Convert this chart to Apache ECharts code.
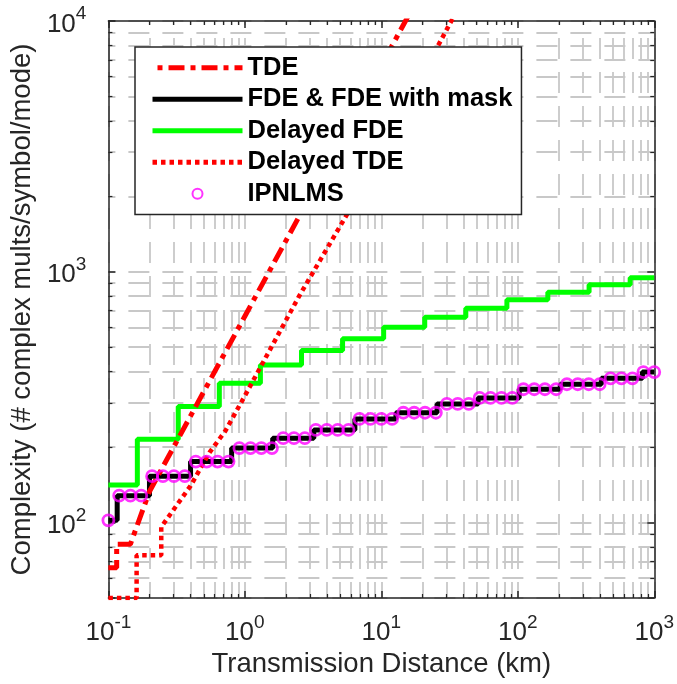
<!DOCTYPE html>
<html>
<head>
<meta charset="utf-8">
<script src="https://cdn.jsdelivr.net/npm/echarts@6/dist/echarts.min.js"></script>
<style>
  html, body { margin: 0; padding: 0; background: #fff; }
  #chart { width: 677px; height: 684px; }
</style>
</head>
<body>
<div id="chart"></div>
<script>
// sample grid of the IPNLMS markers (km)
const distGrid = [0.1, 0.12, 0.145, 0.174, 0.209, 0.251, 0.302, 0.363, 0.437, 0.525,
  0.631, 0.759, 0.912, 1.1, 1.32, 1.58, 1.91, 2.29, 2.75, 3.31,
  3.98, 4.79, 5.75, 6.92, 8.32, 10, 12, 14.5, 17.4, 20.9,
  25.1, 30.2, 36.3, 43.7, 52.5, 63.1, 75.9, 91.2, 110, 132,
  158, 191, 229, 275, 331, 398, 479, 575, 692, 832, 1000];
const ipnlmsVals = [102, 128, 128, 128, 153, 153, 153, 153, 175, 175,
  175, 175, 198, 198, 198, 198, 217, 217, 217, 234,
  234, 234, 234, 259, 259, 259, 259, 274, 274, 274,
  274, 297, 297, 297, 314, 314, 314, 314, 340, 340,
  340, 340, 356, 356, 356, 356, 376, 376, 376, 398, 398];

// FDE & FDE with mask (stairs)
const fdeX = [0.1, 0.116, 0.2, 0.4, 0.8, 1.6, 3.2, 6.4, 12.8, 25.6, 51.2, 102.4, 204.8, 409.6, 819.2, 1000];
const fdeY = [102, 128, 153, 175, 198, 217, 234, 259, 274, 297, 314, 340, 356, 376, 398, 398];

// Delayed FDE (stairs)
const dfdeX = [0.1, 0.163, 0.325, 0.65, 1.3, 2.6, 5.2, 10.4, 20.8, 41.6, 83.2, 166, 333, 666, 1000];
const dfdeY = [141, 215, 290, 359, 425, 485, 540, 601, 659, 716, 773, 828, 887, 946, 946];

// TDE
const tdeX = [0.1, 0.115, 0.115, 0.145, 0.2, 1, 16];
const tdeY = [66, 66, 82, 82, 133, 665, 10640];

// Delayed TDE
const dtdeX = [0.1, 0.161, 0.161, 0.244, 0.244, 0.4, 0.55, 0.72, 1, 2.5, 5.7, 40];
const dtdeY = [50, 50, 74, 74, 96, 140, 190, 232, 320, 800, 1720, 12300];

const FONT = '"Liberation Sans", Arial, Helvetica, sans-serif';
const AXIS_COLOR = '#262626';

function pairs(xs, ys) {
  return xs.map((x, i) => [x, ys[i]]);
}

function expLabel(v) {
  const e = Math.log10(v);
  if (Math.abs(e - Math.round(e)) > 1e-6) return '';
  return '{b|10}{s|' + Math.round(e) + '}';
}

const labelRich = {
  b: { fontSize: 26, fontFamily: FONT, color: AXIS_COLOR, padding: [7, 0, 0, 0] },
  s: { fontSize: 19, fontFamily: FONT, color: AXIS_COLOR, lineHeight: 19, verticalAlign: 'top' }
};

const gridLine = (offset) => ({
  show: true,
  lineStyle: { color: '#c8c8c8', width: 1.8, type: [21, 13], dashOffset: offset }
});

function axisBase(isX) {
  return {
    type: 'log',
    logBase: 10,
    min: isX ? 0.1 : 50,
    max: isX ? 1000 : 10000,
    axisLine: { show: true, onZero: false, lineStyle: { color: AXIS_COLOR, width: 1.5 } },
    axisTick: { show: true, inside: true, length: 7, lineStyle: { color: AXIS_COLOR, width: 1.5 } },
    minorTick: { show: true, splitNumber: 9, length: 4, lineStyle: { color: AXIS_COLOR, width: 1.2 } }
  };
}

// legend entries: hide the marker dot of the line icons
const lineItem = (name, width) => ({ name: name, itemStyle: { opacity: 0 }, lineStyle: { width: width } });

const chart = echarts.init(document.getElementById('chart'));

const option = {
  animation: false,
  backgroundColor: '#fff',
  grid: { left: 103, right: 22, top: 21, bottom: 86, containLabel: false },
  legend: {
    orient: 'vertical',
    left: 135,
    top: 47,
    padding: [5, 9, 5, 15],
    itemGap: 0,
    itemWidth: 90,
    itemHeight: 10,
    backgroundColor: '#fff',
    borderColor: AXIS_COLOR,
    borderWidth: 1.5,
    borderRadius: 0,
    textStyle: { fontSize: 25.5, fontWeight: 'bold', fontFamily: FONT, color: '#000', lineHeight: 31.5 },
    data: [
      lineItem('TDE', 5),
      lineItem('FDE & FDE with mask', 5),
      lineItem('Delayed FDE', 5),
      lineItem('Delayed TDE', 5),
      { name: 'IPNLMS' }
    ]
  },
  xAxis: [
    Object.assign(axisBase(true), {
      position: 'bottom',
      name: 'Transmission Distance (km)',
      nameLocation: 'middle',
      nameGap: 50,
      nameTextStyle: { fontSize: 27.5, fontFamily: FONT, color: AXIS_COLOR },
      axisLabel: { margin: 15, formatter: expLabel, rich: labelRich },
      splitLine: gridLine(17),
      minorSplitLine: gridLine(17)
    }),
    Object.assign(axisBase(true), {
      position: 'top',
      axisLabel: { show: false },
      splitLine: { show: false }
    })
  ],
  yAxis: [
    Object.assign(axisBase(false), {
      position: 'left',
      name: 'Complexity (# complex mults/symbol/mode)',
      nameLocation: 'middle',
      nameRotate: 90,
      nameGap: 66,
      nameTextStyle: { fontSize: 27.5, fontFamily: FONT, color: AXIS_COLOR },
      axisLabel: { margin: 22, formatter: expLabel, rich: labelRich },
      splitLine: gridLine(14),
      minorSplitLine: gridLine(14)
    }),
    Object.assign(axisBase(false), {
      position: 'right',
      axisLabel: { show: false },
      splitLine: { show: false }
    })
  ],
  series: [
    {
      name: 'FDE & FDE with mask',
      type: 'line',
      step: 'end',
      symbol: 'none',
      data: pairs(fdeX, fdeY),
      lineStyle: { color: '#000', width: 5 },
      itemStyle: { color: '#000' }
    },
    {
      name: 'Delayed FDE',
      type: 'line',
      step: 'end',
      symbol: 'none',
      data: pairs(dfdeX, dfdeY),
      lineStyle: { color: '#00ff00', width: 5 },
      itemStyle: { color: '#00ff00' }
    },
    {
      name: 'TDE',
      type: 'line',
      symbol: 'none',
      data: pairs(tdeX, tdeY),
      lineStyle: { color: '#ff0000', width: 5, type: [16, 6, 5, 6] },
      itemStyle: { color: '#ff0000' }
    },
    {
      name: 'Delayed TDE',
      type: 'line',
      symbol: 'none',
      data: pairs(dtdeX, dtdeY),
      lineStyle: { color: '#ff0000', width: 4.5, type: [4.5, 4] },
      itemStyle: { color: '#ff0000' }
    },
    {
      name: 'IPNLMS',
      type: 'scatter',
      symbol: 'circle',
      symbolSize: 11,
      z: 3,
      data: pairs(distGrid, ipnlmsVals),
      itemStyle: { color: 'rgba(255,255,255,0)', borderColor: '#ff00ff', borderWidth: 2.8 }
    }
  ]
};

chart.setOption(option);
</script>
</body>
</html>
